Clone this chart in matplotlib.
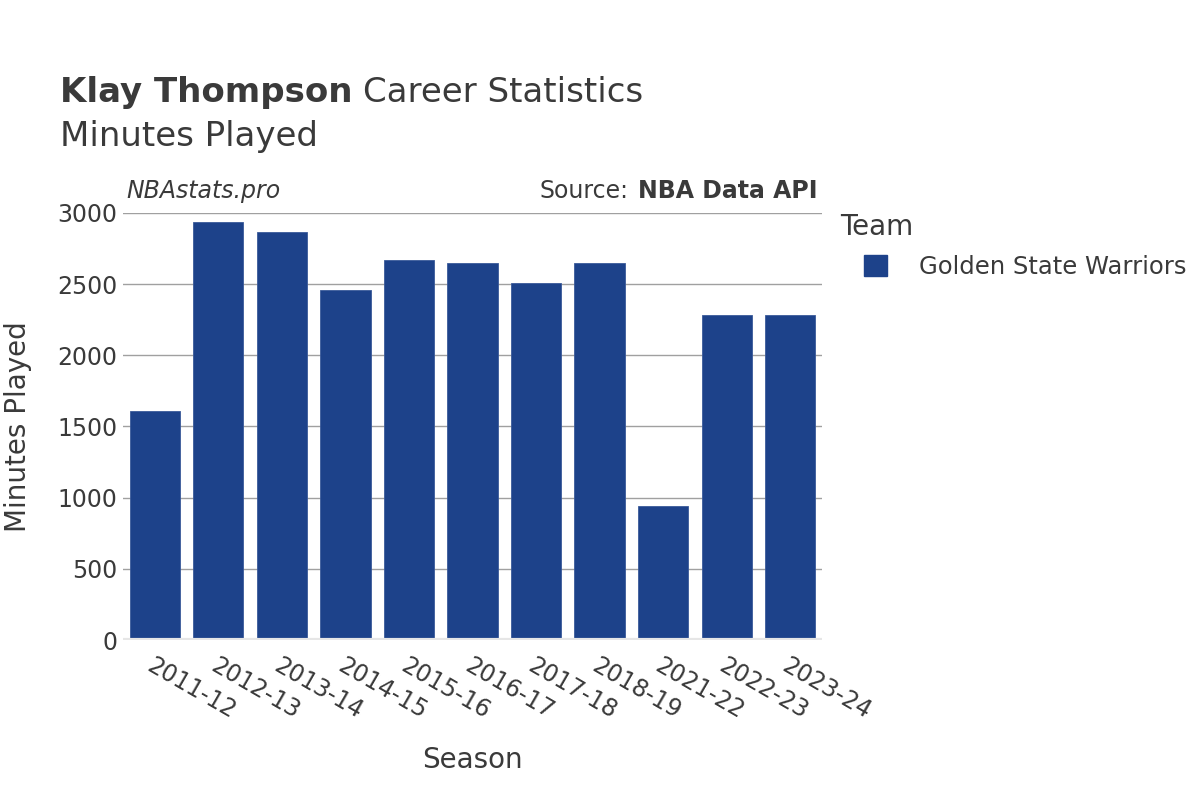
import matplotlib
matplotlib.use('Agg')
import matplotlib.pyplot as plt
from matplotlib.patches import Patch

plt.rcParams['font.family'] = ['DejaVu Sans']

# 数据
seasons = ['2011-12', '2012-13', '2013-14', '2014-15', '2015-16', '2016-17',
           '2017-18', '2018-19', '2021-22', '2022-23', '2023-24']
minutes = [1607, 2936, 2868, 2455, 2666, 2649, 2505, 2648, 941, 2279, 2283]
team = 'Golden State Warriors'
bar_color = '#1d428a'
text_color = '#3a3a3a'

fig = plt.figure(figsize=(12, 8), dpi=100)
ax = fig.add_axes([0.1025, 0.2, 0.5825, 0.534])

x = list(range(len(seasons)))
ax.bar(x, minutes, width=0.79, color=bar_color, edgecolor='#3a5a9a', linewidth=0.6, zorder=3)

ax.set_xlim(-0.5, len(seasons) - 0.5)
ax.set_ylim(0, 3000)
ax.set_yticks([0, 500, 1000, 1500, 2000, 2500, 3000])
ax.yaxis.grid(True, color='#a0a0a0', linewidth=1, zorder=0)
ax.axhline(0, color='#e6e6e6', linewidth=3, zorder=4)
for s in ax.spines.values():
    s.set_visible(False)
ax.tick_params(axis='both', length=0, labelsize=17, labelcolor=text_color)
ax.tick_params(axis='y', pad=4)
ax.set_xticks(x)
ax.set_xticklabels(seasons, rotation=-30, ha='left', rotation_mode='anchor')
ax.tick_params(axis='x', pad=10)

ax.set_xlabel('Season', fontsize=20, color=text_color, labelpad=16)
ax.set_ylabel('Minutes Played', fontsize=20, color=text_color, labelpad=18)

# 标题
t1 = fig.text(0.05, 0.872, 'Klay Thompson', fontsize=24.5, fontweight='bold',
              color=text_color, va='baseline')
fig.canvas.draw()
bb = t1.get_window_extent()
fig.text(bb.x1 / 1200 + 0.009, 0.872, 'Career Statistics', fontsize=24.5,
         color=text_color, va='baseline')
fig.text(0.05, 0.818, 'Minutes Played', fontsize=24.5, color=text_color, va='baseline')

# 来源信息
ax.text(0.005, 1.022, 'NBAstats.pro', transform=ax.transAxes, fontsize=17,
        style='italic', color=text_color, va='bottom')
src = ax.text(0.994, 1.022, 'NBA Data API', transform=ax.transAxes, fontsize=17,
              fontweight='bold', color=text_color, va='bottom', ha='right')
fig.canvas.draw()
sb = src.get_window_extent()
fig.text(sb.x0 / 1200 - 0.008, sb.y0 / 800, 'Source:', fontsize=17,
         color=text_color, va='bottom', ha='right')

# 图例
fig.text(0.7, 1 - 227 / 800, 'Team', fontsize=20, color=text_color, va='center')
fig.legend(handles=[Patch(facecolor=bar_color, edgecolor=bar_color, label=team)],
           loc='center left', bbox_to_anchor=(0.72, 1 - 267 / 800), frameon=False,
           fontsize=17.5, handlelength=0.95, handleheight=0.95, handletextpad=1.3,
           labelcolor=text_color, borderpad=0, borderaxespad=0)

fig.savefig('out.png', dpi=100, facecolor='white')
